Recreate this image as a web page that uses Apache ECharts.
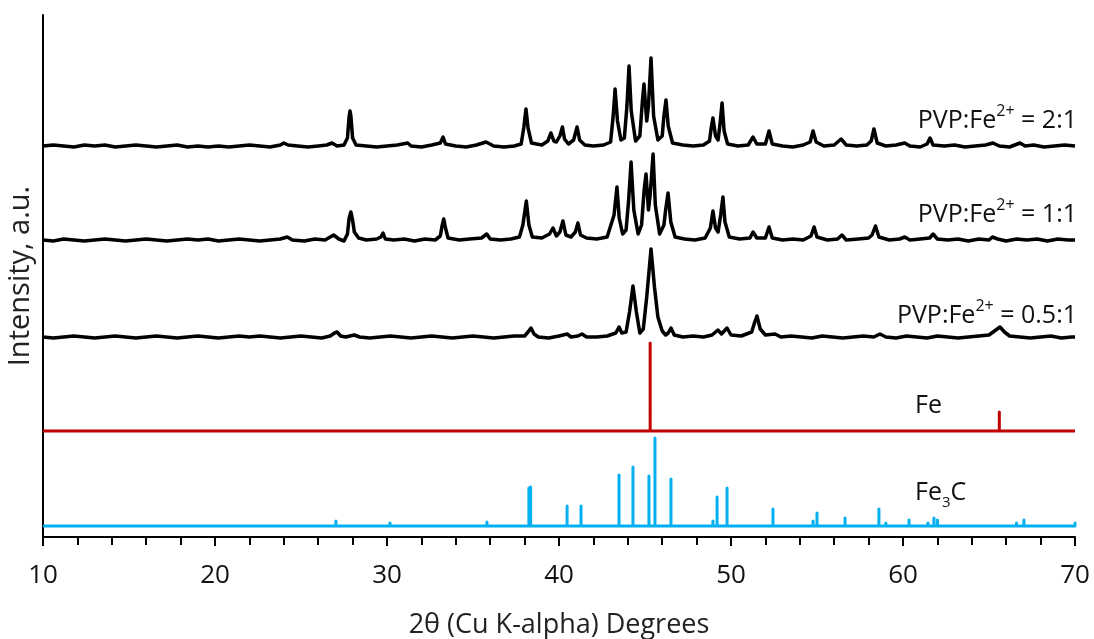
<!DOCTYPE html>
<html><head><meta charset="utf-8">
<script src="https://cdn.jsdelivr.net/npm/echarts@6/dist/echarts.min.js"></script>
<style>html,body{margin:0;padding:0;background:#fff}#c{width:1094px;height:639px}</style>
</head><body><div id="c"></div>
<script>
// ---- data (2θ in degrees, intensity in a.u. relative to each pattern's own baseline) ----
const xTicks = [10, 20, 30, 40, 50, 60, 70];
const xTitle = '2θ (Cu K-alpha) Degrees';
const yTitle = 'Intensity, a.u.';

const pattern21 = [
[10,0],[10.6,1],[11.2,0],[11.8,-1],[12.4,1],[13,0],[13.6,1],[14.2,-1],[14.8,0],[15.4,1],[16,0],[16.6,-1],[17.2,0],[17.8,1],[18.4,-1],[19,0],[19.6,-1],[20.2,0],[20.8,-1],[21.4,0],[22,1],[22.6,0],[23.2,-1],[23.8,1],
[24.0,3],[24.1,5],[24.25,1],[24.8,0],[25.4,-1],[26,0],[26.5,1],[26.8,3],[27.1,0],[27.5,1],
[27.7,8],[27.8,30],[27.85,35],[27.9,30],[28.0,8],[28.2,1],[28.8,0],[29.4,-1],[30,0],[30.6,1],[31.2,3],[31.4,0],[32,-1],[32.6,1],
[33.1,3],[33.26,9],[33.4,2],[34,0],[34.6,-1],[35.2,1],[35.76,4],[36.2,0],[36.8,-1],[37.4,0],[37.8,2],
[37.95,18],[38.08,37],[38.2,18],[38.4,3],[39,1],[39.35,5],[39.53,13],[39.7,5],[39.85,4],[40.05,10],[40.2,19],[40.32,7],[40.55,2],[40.85,6],[41.05,19],[41.2,6],[41.5,1],[42,0],[42.6,1],[43.0,4],
[43.15,30],[43.26,57],[43.4,25],[43.6,6],[43.8,8],[43.95,40],[44.07,80],[44.2,35],[44.45,5],[44.7,10],[44.85,45],[44.94,62],[45.1,25],[45.2,40],[45.35,88],[45.5,30],[45.75,6],[46.0,10],[46.1,30],[46.22,46],[46.35,20],[46.6,3],[47.2,1],[47.8,0],[48.4,1],[48.75,5],
[48.85,18],[48.95,28],[49.1,10],[49.25,6],[49.38,25],[49.48,43],[49.6,15],[49.8,2],[50.4,0],[51,1],[51.28,9],[51.5,2],[52.0,2],[52.21,15],[52.4,2],[53,0],[53.6,-1],[54.2,1],[54.6,4],[54.77,15],[54.95,4],[55.4,0],[56,1],[56.4,7],[56.7,1],[57.3,0],[57.9,1],[58.15,5],[58.31,17],[58.5,3],[59,0],[59.6,1],[60.1,3],[60.4,0],[61,-1],[61.4,2],[61.57,8],[61.75,1],[62.4,0],[63,1],[63.6,-1],[64.2,0],[64.8,1],[65.23,3],[65.6,0],[66.2,-1],[66.8,3],[67.1,0],[67.6,1],[68.2,-1],[68.8,0],[69.4,1],[70,0]
];

const pattern11 = [
[10,0],[10.6,-1],[11.2,1],[11.8,0],[12.4,-1],[13,0],[13.6,1],[14.2,0],[14.8,-1],[15.4,0],[16,1],[16.6,0],[17.2,-1],[17.8,0],[18.4,1],[19,0],[19.6,1],[20.2,-1],[20.8,0],[21.4,1],[22,0],[22.6,-1],[23.2,0],[23.8,1],[24.2,3],[24.5,0],[25.2,-1],[25.8,1],[26.4,0],[26.7,3],[26.9,5],[27.2,1],[27.5,-1],
[27.7,6],[27.8,22],[27.9,28],[28.0,20],[28.1,8],[28.35,2],[28.8,0],[29.4,1],[29.65,3],[29.77,7],[29.9,1],[30.4,0],[31,1],[31.6,-1],[32.2,1],[32.8,0],
[33.1,4],[33.2,14],[33.3,21],[33.4,12],[33.55,2],[34.2,0],[34.8,1],[35.5,2],[35.8,6],[36.0,1],[36.6,0],[37.2,1],[37.7,3],
[37.9,15],[38.1,39],[38.25,15],[38.45,3],[39,2],[39.45,6],[39.65,12],[39.85,4],[40.05,8],[40.23,19],[40.4,5],[40.7,3],[40.95,8],[41.1,17],[41.25,5],[41.6,2],[42.2,1],[42.8,3],
[43.2,25],[43.37,53],[43.5,22],[43.7,6],[43.9,10],[44.05,40],[44.19,78],[44.35,30],[44.6,6],[44.8,15],[44.95,50],[45.06,66],[45.2,30],[45.3,45],[45.47,86],[45.6,35],[45.85,6],[46.1,15],[46.2,30],[46.34,47],[46.5,18],[46.75,3],[47.3,1],[47.9,0],[48.5,2],
[48.8,12],[48.95,29],[49.1,12],[49.25,8],[49.4,25],[49.53,43],[49.65,18],[49.9,3],[50.5,1],[51.1,2],[51.28,8],[51.5,2],[52.0,2],[52.21,13],[52.4,2],[53,0],[53.6,1],[54.2,0],[54.65,4],[54.83,13],[55.0,3],[55.6,0],[56.2,1],[56.45,5],[56.7,0],[57.4,1],[58.0,2],[58.2,5],[58.4,14],[58.6,3],[59.2,0],[59.8,1],[60.1,3],[60.4,0],[61,1],[61.55,2],[61.75,6],[62,1],[62.6,0],[63.2,1],[63.8,-1],[64.4,1],[65,0],[65.2,3],[65.5,1],[66,-1],[66.6,1],[67.2,0],[67.8,1],[68.4,-1],[69,1],[69.6,0],[70,0]
];

const pattern051 = [
[10,0],[10.6,-1],[11.2,0],[11.8,1],[12.4,0],[13,-1],[13.6,0],[14.2,1],[14.8,0],[15.4,-1],[16,0],[16.6,1],[17.2,0],[17.8,-1],[18.4,0],[19,1],[19.6,0],[20.2,-1],[20.8,0],[21.4,1],[22,0],[22.6,1],[23.2,0],[23.8,-1],[24.4,0],[25,1],[25.6,0],[26.2,-1],[26.7,1],[26.95,4],[27.1,5],[27.3,1],[27.6,0],[28.1,2],[28.4,0],[29,-1],[29.6,0],[30.2,1],[30.8,0],[31.4,-1],[32,0],[32.6,1],[33.2,0],[33.8,-1],[34.4,0],[35,1],[35.6,0],[36.2,-1],[36.8,0],[37.4,1],[38,1],
[38.2,5],[38.37,9],[38.55,3],[38.8,0],[39.4,-1],[40,1],[40.47,3],[40.7,0],[41.1,1],[41.34,3],[41.6,0],[42.2,0],[42.8,1],[43.3,4],[43.49,10],[43.65,4],[43.9,5],
[44.1,25],[44.3,51],[44.5,25],[44.7,4],[44.9,8],[45.1,40],[45.35,88],[45.55,50],[45.75,20],[46.0,6],[46.2,2],[46.35,4],[46.51,9],[46.7,2],[47.2,0],[47.8,1],[48.4,0],[48.9,2],[49.24,7],[49.45,3],[49.77,9],[50.0,2],[50.6,1],
[51.2,5],[51.4,16],[51.51,21],[51.7,8],[52,2],[52.56,3],[52.9,0],[53.5,1],[54.1,0],[54.7,-1],[55.3,1],[55.9,0],[56.5,-1],[57.1,0],[57.7,1],[58.3,0],[58.66,3],[59,0],[59.6,-1],[60.2,1],[60.8,0],[61.4,-1],[62,1],[62.6,0],[63.2,-1],[63.8,0],[64.4,1],[65,2],[65.4,7],[65.64,10],[65.9,5],[66.2,1],[66.8,0],[67.4,-1],[68,0],[68.6,1],[69.2,-1],[69.8,0],[70,0]
];

// reference stick patterns: [2θ, relative intensity]
const sticksFe = [[45.3, 88], [65.6, 19]];
const sticksFe3C = [
[27.03,5],[30.17,3],[35.81,4],[38.25,38],[38.35,39],[40.47,20],[41.28,20],[43.49,51],[44.3,59],[45.23,50],[45.58,88],[46.51,47],[48.95,5],[49.19,29],[49.77,38],[52.44,17],[54.77,5],[55.0,13],[56.63,8],[58.6,17],[59.0,3],[60.35,6],[61.45,3],[61.8,8],[62.0,6],[65.47,2],[66.6,3],[67.03,6],[70,3]
];

// ---- layout (vertical stacking offsets, a.u.) ----
const offsets = [391, 297, 200, 106, 11];

function shift(arr, off) { return arr.map(p => [p[0], p[1] + off]); }
function stickLine(sticks, off) {
  const out = [[10, off]];
  sticks.forEach(s => { out.push([s[0], off], [s[0], off + s[1]], [s[0], off]); });
  out.push([70, off]);
  return out;
}

const FONT = 'Open Sans';
const chart = echarts.init(document.getElementById('c'));
const lineSeries = (name, data, color, w) => ({
  name, type: 'line', data, showSymbol: false, symbol: 'none', smooth: false,
  lineStyle: { color, width: w, join: 'round' }, silent: true
});
const labelRich = {
  a: { fontFamily: FONT, fontSize: 25, fill: '#111', lineHeight: 30, verticalAlign: 'bottom' },
  s: { fontFamily: FONT, fontSize: 16, fill: '#111', lineHeight: 22, verticalAlign: 'top' }
};

chart.setOption({
  animation: false,
  backgroundColor: '#fff',
  grid: { left: 43, right: 19, top: 15, bottom: 102, containLabel: false, outerBoundsMode: 'none' },
  xAxis: {
    type: 'value', min: xTicks[0], max: xTicks[xTicks.length - 1], interval: 10,
    axisLine: { show: true, onZero: false, lineStyle: { color: '#000', width: 2 } },
    axisTick: { show: true, inside: false, length: 9, lineStyle: { color: '#000', width: 2 } },
    minorTick: { show: true, splitNumber: 5, length: 8, lineStyle: { color: '#000', width: 2 } },
    splitLine: { show: false },
    axisLabel: { color: '#111', fontFamily: FONT, fontSize: 26, margin: 26 },
    name: xTitle, nameLocation: 'middle', nameGap: 75,
    nameTextStyle: { color: '#222', fontFamily: FONT, fontSize: 27 }
  },
  yAxis: {
    type: 'value', min: 0, max: 522,
    axisLine: { show: true, lineStyle: { color: '#000', width: 2 } },
    axisTick: { show: false }, axisLabel: { show: false }, splitLine: { show: false }
  },
  series: [
    lineSeries('PVP:Fe2+ = 2:1', shift(pattern21, offsets[0]), '#000', 3.5),
    lineSeries('PVP:Fe2+ = 1:1', shift(pattern11, offsets[1]), '#000', 3.5),
    lineSeries('PVP:Fe2+ = 0.5:1', shift(pattern051, offsets[2]), '#000', 3.5),
    lineSeries('Fe', stickLine(sticksFe, offsets[3]), '#C00000', 3),
    lineSeries('Fe3C', stickLine(sticksFe3C, offsets[4]), '#00B0F0', 3)
  ],
  graphic: [
    { type: 'text', x: 21, y: 276, rotation: Math.PI / 2,
      style: { text: yTitle, fontFamily: FONT, fontSize: 29, fill: '#222', align: 'center', verticalAlign: 'middle' } },
    { type: 'text', x: 1077, y: 118, style: { text: '{a|PVP:Fe}{s|2+}{a| = 2:1}', align: 'right', verticalAlign: 'middle', rich: labelRich } },
    { type: 'text', x: 1077, y: 212, style: { text: '{a|PVP:Fe}{s|2+}{a| = 1:1}', align: 'right', verticalAlign: 'middle', rich: labelRich } },
    { type: 'text', x: 1077, y: 313, style: { text: '{a|PVP:Fe}{s|2+}{a| = 0.5:1}', align: 'right', verticalAlign: 'middle', rich: labelRich } },
    { type: 'text', x: 915, y: 406, style: { text: 'Fe', fontFamily: FONT, fontSize: 25, fill: '#111', align: 'left', verticalAlign: 'middle' } },
    { type: 'text', x: 915, y: 495, style: { text: '{a|Fe}{b|3}{a|C}', align: 'left', verticalAlign: 'middle',
      rich: { a: { fontFamily: FONT, fontSize: 25, fill: '#111', lineHeight: 30, verticalAlign: 'top' }, b: { fontFamily: FONT, fontSize: 15, fill: '#111', lineHeight: 22, verticalAlign: 'bottom' } } } }
  ]
});
</script>
</body></html>
